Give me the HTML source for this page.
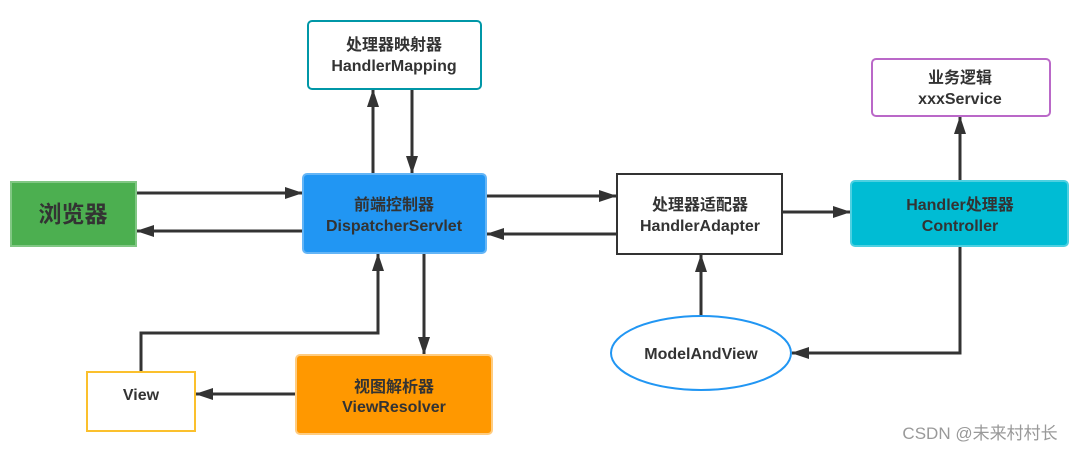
<!DOCTYPE html>
<html><head><meta charset="utf-8"><style>
body{margin:0;background:#fff;width:1083px;height:451px;overflow:hidden}
svg text{font-family:"Liberation Sans","Noto Sans CJK SC",sans-serif;font-weight:bold;fill:#333;text-anchor:middle}
</style></head><body>
<svg width="1083" height="451" viewBox="0 0 1083 451" font-size="16">
<defs><marker id="b" markerWidth="18" markerHeight="12" refX="17" refY="6" orient="auto" markerUnits="userSpaceOnUse"><path d="M0,0 L18,6 L0,12 Z" fill="#333"/></marker></defs>
<g stroke="#333" stroke-width="3" fill="none" marker-end="url(#b)">
<path d="M136 193 H302"/>
<path d="M303 231 H137"/>
<path d="M373 174 V90"/>
<path d="M412 89 V173"/>
<path d="M486 196 H616"/>
<path d="M617 234 H487"/>
<path d="M782 212 H850"/>
<path d="M960 181 V117"/>
<path d="M960 246 V353 H792"/>
<path d="M701 316 V255"/>
<path d="M424 253 V354"/>
<path d="M296 394 H196"/>
<path d="M141 372 V333 H378 V254"/>
</g>
<rect x="11" y="182" width="125" height="64" fill="#4caf50" stroke="#81c784" stroke-width="2"/>
<text x="73" y="222" style="font-size:23px">浏览器</text>
<rect x="308" y="21" width="173" height="68" rx="4" fill="#fff" stroke="#0097a7" stroke-width="2"/>
<text x="394" y="50">处理器映射器</text><text x="394" y="71">HandlerMapping</text>
<rect x="303" y="174" width="183" height="79" rx="4" fill="#2196f3" stroke="#64b5f6" stroke-width="2"/>
<text x="394" y="210">前端控制器</text><text x="394" y="231">DispatcherServlet</text>
<rect x="87" y="372" width="108" height="59" fill="#fff" stroke="#fbc02d" stroke-width="2"/>
<text x="141" y="400">View</text>
<rect x="296" y="355" width="196" height="79" rx="4" fill="#ff9800" stroke="#ffcc80" stroke-width="2"/>
<text x="394" y="392">视图解析器</text><text x="394" y="412">ViewResolver</text>
<rect x="617" y="174" width="165" height="80" fill="#fff" stroke="#333" stroke-width="2"/>
<text x="700" y="210">处理器适配器</text><text x="700" y="231">HandlerAdapter</text>
<rect x="851" y="181" width="217" height="65" rx="4" fill="#00bcd4" stroke="#4dd0e1" stroke-width="2"/>
<text x="960" y="210">Handler处理器</text><text x="960" y="231">Controller</text>
<rect x="872" y="59" width="178" height="57" rx="4" fill="#fff" stroke="#ba68c8" stroke-width="2"/>
<text x="960" y="83">业务逻辑</text><text x="960" y="104">xxxService</text>
<ellipse cx="701" cy="353" rx="90" ry="37" fill="#fff" stroke="#2196f3" stroke-width="2"/>
<text x="701" y="359">ModelAndView</text>
<text x="980" y="439" style="font-weight:normal;fill:#999;font-size:17px">CSDN @未来村村长</text>
</svg>
</body></html>
